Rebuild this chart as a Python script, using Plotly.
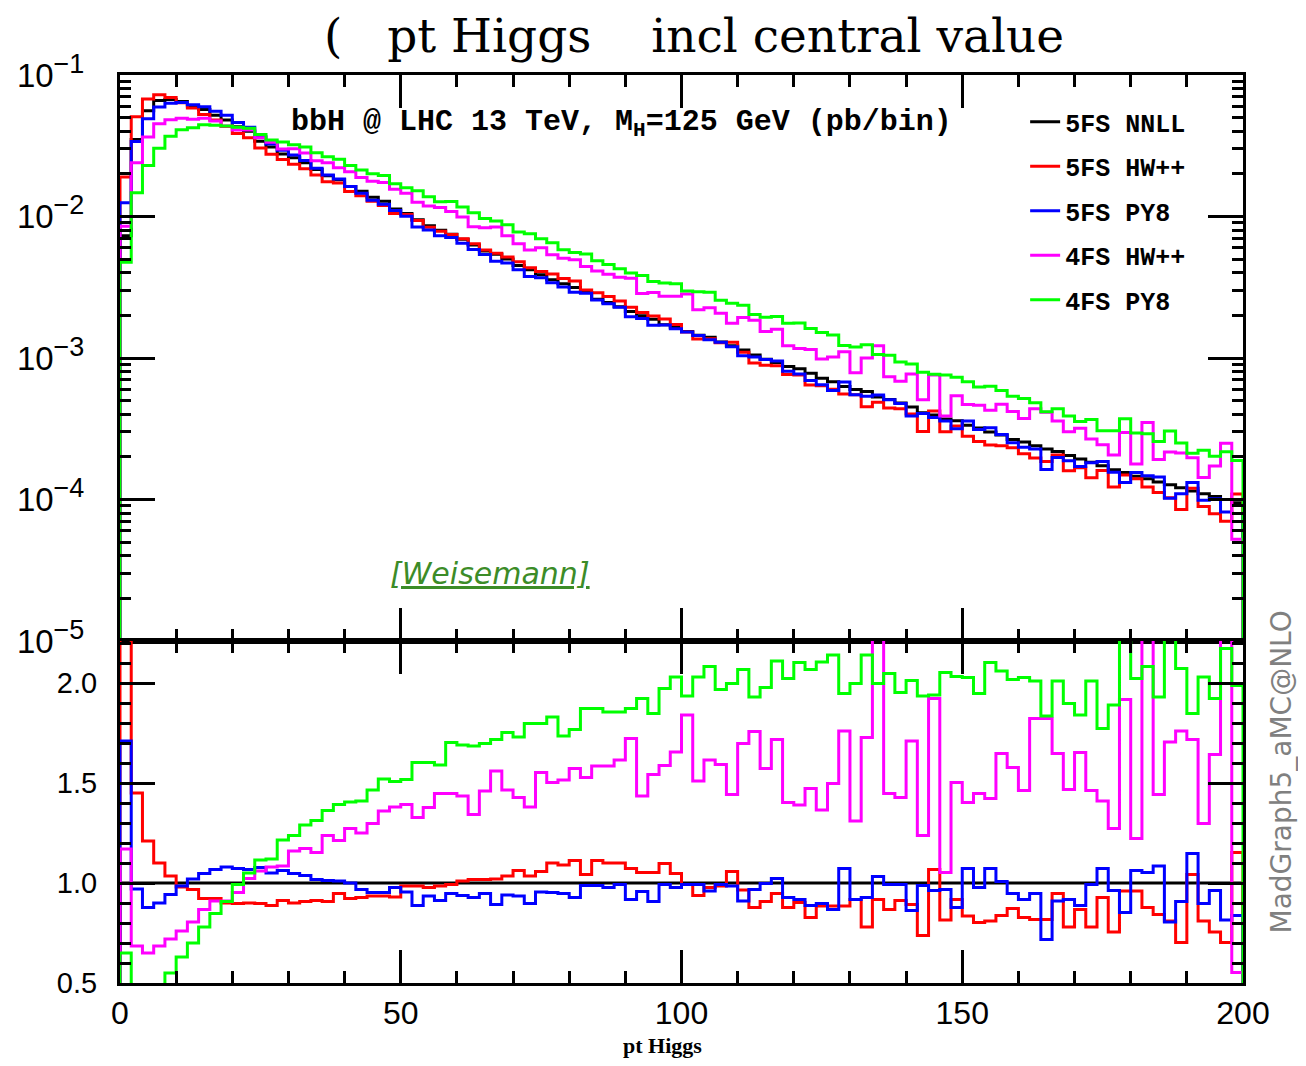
import numpy as np
import plotly.graph_objects as go
from plotly.subplots import make_subplots

# ---------------- data ----------------
# pt Higgs bins: 100 bins of width 2 GeV from 0 to 200
bin_edges = np.linspace(0, 200, 101)

# 5FS NNLL (reference), pb/bin
nnll_5fs = [
    0.0073, 0.035, 0.056, 0.066, 0.067, 0.065, 0.0605, 0.057, 0.052, 0.048,
    0.043, 0.040, 0.034, 0.031, 0.0277, 0.026, 0.024, 0.0215, 0.0194, 0.0182,
    0.0163, 0.0151, 0.0137, 0.0128, 0.0113, 0.0105, 0.0095, 0.0086, 0.0080, 0.0075,
    0.0069, 0.0063, 0.0057, 0.0054, 0.0050, 0.0045, 0.0042, 0.00387, 0.00357, 0.00335,
    0.00315, 0.0029, 0.0026, 0.00247, 0.0023, 0.00213, 0.00199, 0.00188, 0.00172, 0.00165,
    0.00154, 0.00145, 0.0014, 0.0013, 0.00122, 0.00114, 0.00105, 0.00098, 0.00093, 0.00087,
    0.00084, 0.00078, 0.00072, 0.00068, 0.00063, 0.0006, 0.00058, 0.00053, 0.00051, 0.00048,
    0.00045, 0.00041, 0.000395, 0.00037, 0.00036, 0.000335, 0.00032, 0.0003, 0.000286, 0.000266,
    0.000255, 0.00024, 0.000227, 0.000218, 0.000205, 0.000193, 0.000183, 0.000173, 0.000162, 0.000155,
    0.000146, 0.00014, 0.000133, 0.000127, 0.000121, 0.000115, 0.00011, 0.000105, 0.0001, 0.000095,
]

# ratios to 5FS NNLL (bottom panel)
ratio_5fs_hw = [
    2.6, 1.45, 1.21, 1.10, 1.035, 0.98, 0.968, 0.923, 0.923, 0.90,
    0.897, 0.90, 0.897, 0.888, 0.913, 0.90, 0.907, 0.913, 0.907, 0.948,
    0.923, 0.927, 0.935, 0.935, 0.93, 0.985, 0.985, 0.977, 0.985, 0.993,
    1.01, 1.018, 1.018, 1.02, 1.035, 1.063, 1.035, 1.057, 1.10, 1.09,
    1.113, 1.043, 1.113, 1.10, 1.10, 1.073, 1.052, 1.052, 1.097, 1.047,
    0.993, 0.938, 0.977, 0.985, 1.057, 0.965, 0.877, 0.907, 0.948, 0.877,
    0.902, 0.827, 0.885, 0.885, 0.885, 0.918, 0.78, 0.918, 0.868, 0.913,
    0.893, 0.738, 1.068, 0.815, 0.918, 0.835, 0.802, 0.81, 0.838, 0.873,
    0.827, 0.818, 0.818, 0.948, 0.78, 0.868, 0.78, 0.927, 0.755, 0.96,
    0.96, 0.877, 0.843, 0.81, 0.702, 1.043, 0.81, 0.755, 0.702, 1.152,
]
ratio_5fs_py8 = [
    1.71, 0.97, 0.877, 0.90, 0.943, 0.985, 1.02, 1.047, 1.068, 1.08,
    1.072, 1.068, 1.077, 1.05, 1.063, 1.047, 1.038, 1.018, 1.013, 1.01,
    1.0, 0.968, 0.952, 0.952, 0.977, 0.955, 0.888, 0.935, 0.913, 0.947,
    0.938, 0.927, 0.947, 0.893, 0.94, 0.935, 0.898, 0.955, 0.952, 0.948,
    0.927, 0.988, 0.988, 0.977, 0.993, 0.918, 0.957, 0.907, 0.993, 0.977,
    0.993, 0.993, 0.96, 0.993, 0.985, 0.91, 0.968, 0.997, 1.022, 0.927,
    0.918, 0.888, 0.898, 0.868, 1.073, 0.918, 0.927, 1.032, 0.993, 0.993,
    0.863, 0.988, 0.963, 0.968, 0.877, 1.073, 0.977, 1.073, 1.007, 0.947,
    0.918, 0.947, 0.718, 0.91, 0.918, 0.888, 0.993, 1.073, 0.963, 0.852,
    1.063, 1.052, 1.085, 0.805, 0.907, 1.147, 0.898, 0.963, 0.815, 0.838,
]
ratio_4fs_hw = [
    1.17, 0.685, 0.65, 0.685, 0.72, 0.76, 0.805, 0.868, 0.91, 0.91,
    0.952, 1.023, 1.06, 1.08, 1.085, 1.16, 1.173, 1.152, 1.238, 1.213,
    1.273, 1.25, 1.298, 1.36, 1.38, 1.393, 1.327, 1.377, 1.447, 1.447,
    1.435, 1.343, 1.46, 1.56, 1.465, 1.427, 1.38, 1.552, 1.502, 1.515,
    1.572, 1.527, 1.585, 1.585, 1.615, 1.722, 1.435, 1.543, 1.588, 1.655,
    1.84, 1.51, 1.615, 1.593, 1.443, 1.698, 1.757, 1.573, 1.718, 1.402,
    1.39, 1.472, 1.365, 1.497, 1.76, 1.31, 1.727, 2.3, 1.447, 1.427,
    1.71, 1.238, 1.922, 1.052, 1.502, 1.402, 1.447, 1.423, 1.648, 1.577,
    1.463, 1.822, 1.822, 1.648, 1.468, 1.652, 1.463, 1.41, 1.273, 1.918,
    1.222, 2.5, 1.443, 1.705, 1.76, 1.718, 1.298, 1.643, 2.5, 0.552,
]
ratio_4fs_py8 = [
    0.65, 0.42, 0.41, 0.46, 0.55, 0.63, 0.70, 0.78, 0.848, 0.907,
    0.993, 1.05, 1.115, 1.12, 1.215, 1.238, 1.29, 1.313, 1.363, 1.393,
    1.405, 1.41, 1.465, 1.52, 1.507, 1.518, 1.602, 1.602, 1.59, 1.702,
    1.69, 1.685, 1.697, 1.718, 1.752, 1.73, 1.797, 1.797, 1.83, 1.735,
    1.768, 1.873, 1.873, 1.855, 1.855, 1.873, 1.922, 1.848, 1.973, 2.03,
    1.935, 2.03, 2.082, 1.968, 1.997, 2.068, 1.93, 1.977, 2.11, 2.023,
    2.102, 2.068, 2.105, 2.14, 1.947, 1.997, 2.14, 1.997, 2.047, 1.952,
    2.013, 1.935, 1.94, 2.052, 2.032, 2.027, 1.947, 2.102, 2.06, 2.018,
    2.027, 2.01, 1.835, 2.01, 1.897, 1.84, 2.01, 1.772, 1.89, 2.4,
    2.023, 2.082, 1.93, 2.4, 2.072, 1.848, 2.03, 1.922, 2.172, 1.988,
]

series_names = ["5FS NNLL", "5FS HW++", "5FS PY8", "4FS HW++", "4FS PY8"]
series_colors = ["#000000", "#ff0000", "#0000ff", "#ff00ff", "#00ff00"]

ref = np.array(nnll_5fs)
ratios = [np.ones_like(ref), np.array(ratio_5fs_hw), np.array(ratio_5fs_py8),
          np.array(ratio_4fs_hw), np.array(ratio_4fs_py8)]
values = [ref * r for r in ratios]


def step(vals, base):
    x = np.concatenate([[bin_edges[0]], bin_edges[:-1], [bin_edges[-1], bin_edges[-1]]])
    y = np.concatenate([[base], vals, [vals[-1], base]])
    return x, y


fig = make_subplots(rows=2, cols=1, shared_xaxes=True, vertical_spacing=0,
                    row_heights=[566, 342])

for i, (name, col) in enumerate(zip(series_names, series_colors)):
    x, y = step(values[i], 1e-7)
    fig.add_trace(go.Scatter(x=x, y=y, mode="lines", name=name, legendgroup=name,
                             line=dict(color=col, width=3, shape="hv")), row=1, col=1)
for i, (name, col) in enumerate(zip(series_names, series_colors)):
    x, y = step(ratios[i], 0.0)
    fig.add_trace(go.Scatter(x=x, y=y, mode="lines", name=name, legendgroup=name,
                             showlegend=False,
                             line=dict(color=col, width=3, shape="hv")), row=2, col=1)

axis_common = dict(showline=True, linewidth=3, linecolor="black", mirror="ticks",
                   ticks="inside", tickcolor="black", showgrid=False, zeroline=False,
                   automargin=False)

xcommon = dict(axis_common, range=[0, 200], tick0=0, dtick=50, ticklen=33, tickwidth=3,
               minor=dict(ticks="inside", dtick=10, tick0=0, ticklen=12, tickwidth=3,
                          tickcolor="black", showgrid=False))
fig.update_xaxes(xcommon, row=1, col=1, showticklabels=False)
fig.update_xaxes(xcommon, row=2, col=1,
                 tickfont=dict(family="Liberation Sans", size=32, color="black"),
                 ticklabelstandoff=0)

decades = [1e-5, 1e-4, 1e-3, 1e-2, 1e-1]
exps = ["\u22125", "\u22124", "\u22123", "\u22122", "\u22121"]
decade_text = [f"10<sup><span style='font-size:27px'>{e}</span></sup>" for e in exps]
minor_log = [m * d for d in decades[:-1] for m in range(2, 10)]
fig.update_yaxes(axis_common, row=1, col=1, type="log", range=[-5, -1],
                 tickmode="array", tickvals=decades, ticktext=decade_text,
                 ticklen=35, tickwidth=3, ticklabelstandoff=26,
                 tickfont=dict(family="Liberation Sans", size=33, color="black"),
                 minor=dict(ticks="inside", tickmode="array", tickvals=minor_log,
                            ticklen=11, tickwidth=3, tickcolor="black", showgrid=False))
fig.update_yaxes(axis_common, row=2, col=1, range=[0.5, 2.21], tick0=0.5, dtick=0.5,
                 tickformat=".1f", ticklen=35, tickwidth=3, ticklabelstandoff=14,
                 tickfont=dict(family="Liberation Sans", size=29, color="black"),
                 minor=dict(ticks="inside", tick0=0.5, dtick=0.1, ticklen=11, tickwidth=3,
                            tickcolor="black", showgrid=False))

nb = "\u00a0"
fig.add_annotation(xref="paper", yref="paper", x=0.511, y=1.043, xanchor="center",
                   yanchor="middle", showarrow=False,
                   text=f"({nb*3}pt Higgs{nb*4}incl central value",
                   font=dict(family="DejaVu Serif", size=47, color="black"))
fig.add_annotation(xref="paper", yref="paper", x=0.1505, y=0.947, xanchor="left",
                   yanchor="middle", showarrow=False,
                   text="bbH @ LHC 13 TeV, M<sub>H</sub>=125 GeV (pb/bin)",
                   font=dict(family="Liberation Mono", size=30, color="black", weight="bold"))
fig.add_annotation(xref="paper", yref="paper", x=0.3295, y=0.4515, xanchor="center",
                   yanchor="middle", showarrow=False,
                   text="<i><u>[Weisemann]</u></i>",
                   font=dict(family="DejaVu Sans", size=30, color="#3c8c28"))
fig.add_annotation(xref="paper", yref="paper", x=1.034, y=0.232, xanchor="center",
                   yanchor="middle", showarrow=False, textangle=-90,
                   text="MadGraph5_aMC@NLO",
                   font=dict(family="DejaVu Sans", size=28, color="#808080"))
fig.add_annotation(xref="paper", yref="paper", x=0.4835, y=-0.069, xanchor="center",
                   yanchor="middle", showarrow=False, text="pt Higgs",
                   font=dict(family="Liberation Serif", size=22, color="black", weight="bold"))

fig.update_layout(
    width=1290, height=1050,
    margin=dict(l=112, r=55, t=67, b=75, autoexpand=False),
    paper_bgcolor="white", plot_bgcolor="white",
    showlegend=True,
    legend=dict(x=0.806, y=0.9735, xanchor="left", yanchor="top",
                bgcolor="rgba(0,0,0,0)", tracegroupgap=9,
                font=dict(family="Liberation Mono", size=25, color="black", weight="bold")),
)

fig.write_html("out.html")
